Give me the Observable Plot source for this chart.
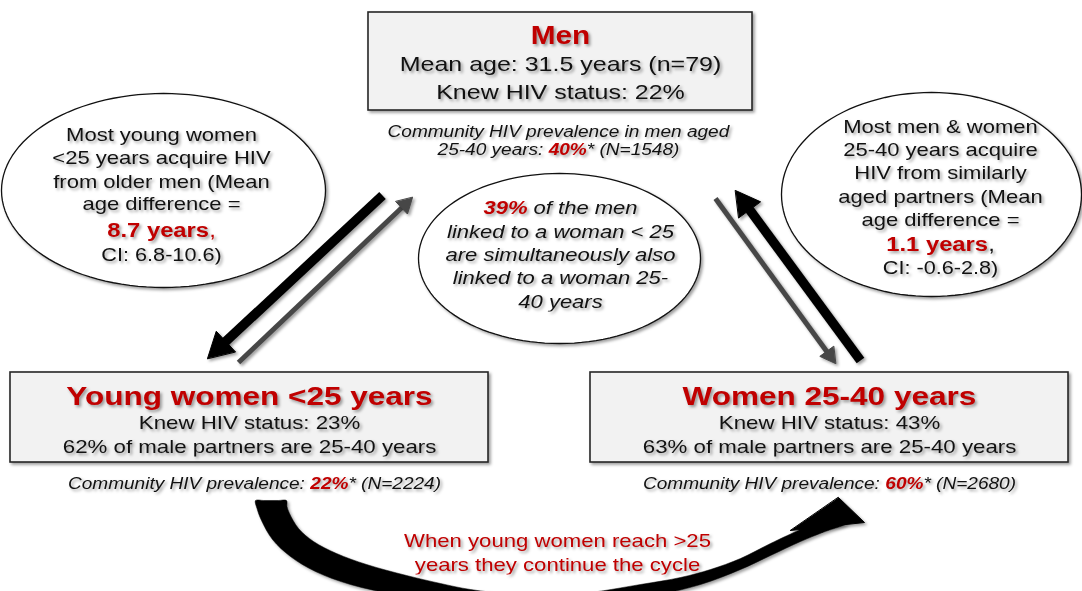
<!DOCTYPE html>
<html>
<head>
<meta charset="utf-8">
<script src="https://cdn.jsdelivr.net/npm/d3@7"></script>
<script src="https://cdn.jsdelivr.net/npm/@observablehq/plot@0.6"></script>
<style>
  html, body { margin: 0; padding: 0; background: #fff; }
  #chart svg > g { filter: drop-shadow(2px 2px 1.6px rgba(0,0,0,0.38)); }
</style>
</head>
<body>
<div id="chart"></div>
<script>
// ---------------- data ----------------
const groups = ["Men", "Young women <25 years", "Women 25-40 years"];
const knewStatus = [22, 23, 43];            // % knew HIV status
const prevalence = [40, 22, 60];            // community HIV prevalence, %
const sampleN = [1548, 2224, 2680];         // community sample size
const malePartners2540 = [null, 62, 63];    // % of male partners aged 25-40
const menMeanAge = 31.5;
const menN = 79;
const ageDiff = [8.7, 1.1];                 // mean age difference (years)
const ageDiffCI = [[6.8, 10.6], [-0.6, 2.8]];
const menLinkedBoth = 39;                   // % of men linked to both groups

// ---------------- layout (pixel space) ----------------
const W = 1082, H = 591;
const FONT = "'Liberation Sans', Arial, Helvetica, sans-serif";
const SX = 1.19;                 // horizontal stretch of the original lettering
const RED = "#c00000", INK = "#111";

const boxLayout = [
  {x1: 368, x2: 752, y1: 12, y2: 110},
  {x1: 10, x2: 488, y1: 372, y2: 462},
  {x1: 590, x2: 1068, y1: 372, y2: 462}
];
const ellipseLayout = [
  {id: "left", cx: 163, cy: 190, rx: 162, ry: 97},
  {id: "right", cx: 931, cy: 194, rx: 150, ry: 102},
  {id: "center", cx: 559, cy: 258, rx: 141, ry: 85}
];
const arrowLayout = [
  {id: "men-young", x1: 382, y1: 195, x2: 207, y2: 358, w: 9.5, len: 25, hw: 28, color: "#000"},
  {id: "young-men", x1: 238, y1: 362, x2: 412, y2: 197, w: 5, len: 15, hw: 17, color: "#474747"},
  {id: "men-women", x1: 715, y1: 198, x2: 835, y2: 363, w: 5, len: 15, hw: 17, color: "#474747"},
  {id: "women-men", x1: 860, y1: 360, x2: 735, y2: 190, w: 9.5, len: 24, hw: 27, color: "#000"}
];
// outline of the curved "cycle" band (lower edge right->left, then upper edge left->right)
const cycleBand = [
  [846,523],[822,532],[800,541],[770,555],[740,569],[700,584],[640,598],
  [580,607],[520,609],[460,605],[400,595],[350,584],[315,571],[290,556],[272,539],[261,520],[256.5,508],[255,500],
  [263,500],[270.5,500],[278,500],[286,500],[286.5,506],[289,513],[298,528],[313,541],[336,553],[366,564],[406,575],[440,583],[470,589],[520,594],
  [580,593],[640,584],[680,577],[710,569],[740,558],[770,543],[800,529],[812,524]
];
const cycleHead = [[838,497],[864,522],[790,530]];

// ---------------- text lines ----------------
const N = (s) => ({size: s});
const lines = [
  // Men box
  {cx: 560, y: 43, parts: [[groups[0], {size: 25, weight: "bold", fill: RED}]]},
  {cx: 560, y: 70, parts: [[`Mean age: ${menMeanAge} years (n=${menN})`, N(21)]]},
  {cx: 560, y: 98, parts: [[`Knew HIV status: ${knewStatus[0]}%`, N(21)]]},
  {cx: 558, y: 136, parts: [["Community HIV prevalence in men aged", {size: 16, style: "italic"}]]},
  {cx: 558, y: 154, parts: [["25-40 years: ", {size: 16, style: "italic"}],
                            [`${prevalence[0]}%`, {size: 16, style: "italic", weight: "bold", fill: RED}],
                            [`* (N=${sampleN[0]})`, {size: 16, style: "italic"}]]},
  // Young women box
  {cx: 249, y: 404, parts: [[groups[1], {size: 26.5, weight: "bold", fill: RED}]]},
  {cx: 249, y: 428, parts: [[`Knew HIV status: ${knewStatus[1]}%`, N(18.7)]]},
  {cx: 249, y: 452, parts: [[`${malePartners2540[1]}% of male partners are 25-40 years`, N(18.7)]]},
  {cx: 254, y: 488, parts: [["Community HIV prevalence: ", {size: 16, style: "italic"}],
                            [`${prevalence[1]}%`, {size: 16, style: "italic", weight: "bold", fill: RED}],
                            [`* (N=${sampleN[1]})`, {size: 16, style: "italic"}]]},
  // Women 25-40 box
  {cx: 829, y: 404, parts: [[groups[2], {size: 26.5, weight: "bold", fill: RED}]]},
  {cx: 829, y: 428, parts: [[`Knew HIV status: ${knewStatus[2]}%`, N(18.7)]]},
  {cx: 829, y: 452, parts: [[`${malePartners2540[2]}% of male partners are 25-40 years`, N(18.7)]]},
  {cx: 829, y: 488, parts: [["Community HIV prevalence: ", {size: 16, style: "italic"}],
                            [`${prevalence[2]}%`, {size: 16, style: "italic", weight: "bold", fill: RED}],
                            [`* (N=${sampleN[2]})`, {size: 16, style: "italic"}]]},
  // Left ellipse
  {cx: 161, y: 140, parts: [["Most young women", N(18.5)]]},
  {cx: 161, y: 163, parts: [["<25 years acquire HIV", N(18.5)]]},
  {cx: 161, y: 187, parts: [["from older men (Mean", N(18.5)]]},
  {cx: 161, y: 209, parts: [["age difference =", N(18.5)]]},
  {cx: 161, y: 236, parts: [[`${ageDiff[0]} years`, {size: 20, weight: "bold", fill: RED}], [",", {size: 20, fill: RED}]]},
  {cx: 161, y: 260, parts: [[`CI: ${ageDiffCI[0][0]}-${ageDiffCI[0][1]})`, N(18.2)]]},
  // Right ellipse
  {cx: 940, y: 132, parts: [["Most men & women", N(18.5)]]},
  {cx: 940, y: 155, parts: [["25-40 years acquire", N(18.5)]]},
  {cx: 940, y: 178, parts: [["HIV from similarly", N(18.5)]]},
  {cx: 940, y: 202, parts: [["aged partners (Mean", N(18.5)]]},
  {cx: 940, y: 225, parts: [["age difference =", N(18.5)]]},
  {cx: 940, y: 250, parts: [[`${ageDiff[1]} years`, {size: 20, weight: "bold", fill: RED}], [",", {size: 20}]]},
  {cx: 940, y: 273, parts: [[`CI: ${ageDiffCI[1][0]}-${ageDiffCI[1][1]})`, N(18.2)]]},
  // Center ellipse
  {cx: 560, y: 213, parts: [[`${menLinkedBoth}% `, {size: 18.5, style: "italic", weight: "bold", fill: RED}],
                            ["of the men", {size: 18.5, style: "italic"}]]},
  {cx: 560, y: 237, parts: [["linked to a woman < 25", {size: 18.5, style: "italic"}]]},
  {cx: 560, y: 260, parts: [["are simultaneously also", {size: 18.5, style: "italic"}]]},
  {cx: 560, y: 283, parts: [["linked to a woman 25-", {size: 18.5, style: "italic"}]]},
  {cx: 560, y: 307, parts: [["40 years", {size: 18.5, style: "italic"}]]},
  // Cycle caption
  {cx: 557, y: 546, parts: [["When young women reach >25", {size: 18.6, fill: RED}]]},
  {cx: 557, y: 570, parts: [["years they continue the cycle", {size: 18.6, fill: RED}]]}
];

// place styled segments of each line side by side, centred on cx
const ctx = document.createElement("canvas").getContext("2d");
const textRows = [];
for (const line of lines) {
  const segs = line.parts.map(([text, o]) => {
    const s = {size: 18, weight: "normal", style: "normal", fill: INK, ...o};
    ctx.font = `${s.style} ${s.weight} ${s.size}px ${FONT}`;
    return {text, ...s, w: ctx.measureText(text).width * SX};
  });
  let x = line.cx - d3.sum(segs, (d) => d.w) / 2;
  for (const s of segs) { textRows.push({...s, x, y: line.y}); x += s.w; }
}
const textGroups = d3.groups(textRows, (d) => `${d.weight}|${d.style}|${d.fill}`);

// ellipse outlines
const ellipsePts = ellipseLayout.flatMap((e) =>
  d3.range(0, 360, 3).map((a) => ({id: e.id,
    x: e.cx + e.rx * Math.cos(a * Math.PI / 180),
    y: e.cy + e.ry * Math.sin(a * Math.PI / 180)})));

// arrow shafts & heads
const shafts = arrowLayout.map((a) => {
  const dx = a.x2 - a.x1, dy = a.y2 - a.y1, L = Math.hypot(dx, dy);
  const ux = dx / L, uy = dy / L;
  return {...a, ex: a.x2 - ux * (a.len - 2), ey: a.y2 - uy * (a.len - 2)};
});
const heads = arrowLayout.flatMap((a) => {
  const dx = a.x2 - a.x1, dy = a.y2 - a.y1, L = Math.hypot(dx, dy);
  const ux = dx / L, uy = dy / L, px = -uy, py = ux;
  const bx = a.x2 - ux * a.len, by = a.y2 - uy * a.len;
  return [
    {id: a.id, color: a.color, x: a.x2, y: a.y2},
    {id: a.id, color: a.color, x: bx + px * a.hw / 2, y: by + py * a.hw / 2},
    {id: a.id, color: a.color, x: bx - px * a.hw / 2, y: by - py * a.hw / 2}
  ];
});
const bandPts = cycleBand.map(([x, y]) => ({x, y}));
const cycleHeadPts = cycleHead.map(([x, y]) => ({x, y}));

const marks = [
  Plot.line(ellipsePts, {x: "x", y: "y", z: "id", curve: "linear-closed", fill: "white", stroke: "#111", strokeWidth: 1.3}),
  Plot.rect(boxLayout, {x1: "x1", x2: "x2", y1: "y1", y2: "y2", fill: "#f2f2f2", stroke: "#262626", strokeWidth: 1.6}),
  ...["#000", "#474747"].map((c) =>
    Plot.link(shafts.filter((d) => d.color === c), {x1: "x1", y1: "y1", x2: "ex", y2: "ey",
      stroke: c, strokeWidth: c === "#000" ? 9.5 : 5, strokeLinecap: "butt"})),
  ...["#000", "#474747"].map((c) =>
    Plot.line(heads.filter((d) => d.color === c), {x: "x", y: "y", z: "id", curve: "linear-closed",
      fill: c, stroke: c, strokeWidth: 1, strokeLinejoin: "miter"})),
  Plot.line(bandPts, {x: "x", y: "y", curve: "catmull-rom-closed", fill: "#000", stroke: "#000", strokeWidth: 0.5}),
  Plot.line(cycleHeadPts, {x: "x", y: "y", curve: "linear-closed", fill: "#000", stroke: "#000", strokeWidth: 1, strokeLinejoin: "miter"}),
  ...textGroups.map(([key, rows]) => {
    const [weight, style, fill] = key.split("|");
    return Plot.text(rows, {x: "x", y: "y", text: "text", fontSize: "size", textAnchor: "start",
      lineAnchor: "bottom", fontFamily: FONT, fontWeight: weight, fontStyle: style, fill});
  })
];

const chart = Plot.plot({
  width: W, height: H, margin: 0,
  x: {domain: [0, W], range: [0, W], axis: null},
  y: {domain: [0, H], range: [0, H], axis: null},
  style: {background: "white", overflow: "hidden"},
  marks
});
chart.querySelectorAll("text").forEach((t) => {
  const tr = t.getAttribute("transform");
  if (tr && tr.includes("translate")) t.setAttribute("transform", `${tr} scale(${SX},1)`);
});
document.getElementById("chart").appendChild(chart);
</script>
</body>
</html>
